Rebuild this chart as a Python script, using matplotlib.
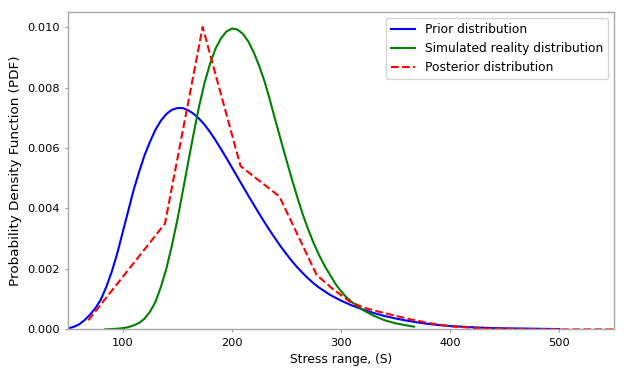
import matplotlib
matplotlib.use("Agg")
import matplotlib.pyplot as plt

# Prior distribution
prior_x = [50, 55, 60, 65, 70, 75, 80, 85, 90, 95, 100, 105, 110, 115, 120,
           125, 130, 135, 140, 145, 150, 155, 160, 165, 170, 175, 180, 185,
           190, 195, 200, 205, 210, 215, 220, 225, 230, 235, 240, 245, 250,
           255, 260, 265, 270, 275, 280, 290, 300, 310, 320, 330, 340, 350,
           360, 370, 380, 390, 400, 420, 440, 460, 480, 500]
prior_y = [0.00003, 0.00008, 0.00016, 0.0003, 0.00048, 0.0007, 0.00098,
           0.0014, 0.0019, 0.0025, 0.0032, 0.0039, 0.0046, 0.0052, 0.00575,
           0.0062, 0.0066, 0.0069, 0.00712, 0.00726, 0.00732, 0.00732,
           0.00725, 0.00713, 0.00697, 0.00677, 0.00653, 0.00626, 0.00597,
           0.00567, 0.00536, 0.00505, 0.00474, 0.00443, 0.00413, 0.00383,
           0.00354, 0.00326, 0.00299, 0.00273, 0.00249, 0.00226, 0.00205,
           0.00186, 0.00168, 0.00152, 0.00138, 0.00114, 0.00095, 0.00079,
           0.00066, 0.00054, 0.00044, 0.00036, 0.00029, 0.00023, 0.00018,
           0.00014, 0.00011, 0.00007, 0.00004, 0.00003, 0.00002, 0.00001]

# Simulated reality distribution
real_x = [84, 90, 95, 100, 105, 110, 115, 120, 125, 130, 135, 140, 145, 150,
          155, 160, 165, 170, 175, 180, 185, 190, 195, 200, 205, 210, 215,
          220, 225, 230, 235, 240, 245, 250, 255, 260, 265, 270, 275, 280,
          285, 290, 295, 300, 305, 310, 320, 330, 340, 350, 360, 367]
real_y = [0.0, 0.00001, 0.00002, 0.00004, 0.00007, 0.00013, 0.00021, 0.00035,
          0.00058, 0.0009, 0.0014, 0.002, 0.00275, 0.0036, 0.00455, 0.00552,
          0.00647, 0.00737, 0.00815, 0.00878, 0.00928, 0.00962, 0.00985,
          0.00995, 0.00992, 0.00978, 0.00953, 0.00917, 0.00872, 0.0082,
          0.00757, 0.0069, 0.00625, 0.0056, 0.00497, 0.00437, 0.0038, 0.0033,
          0.00285, 0.00245, 0.0021, 0.0018, 0.0015, 0.00126, 0.00106, 0.0009,
          0.00064, 0.00045, 0.0003, 0.0002, 0.00013, 0.00009]

# Posterior distribution
post_x = [68.6, 138.8, 173.3, 208, 243.5, 277.7, 292, 308, 320, 335, 350,
          365, 380, 400, 425, 450, 475, 500, 550]
post_y = [0.0003, 0.0035, 0.0100, 0.0054, 0.0044, 0.0018, 0.00135, 0.00092,
          0.00073, 0.00058, 0.00045, 0.00032, 0.00021, 0.0001, 0.00004,
          0.00001, 0.0, 0.0, 0.0]

fig = plt.figure(figsize=(6.24, 3.73), dpi=100)
ax = fig.add_axes([0.109, 0.117, 0.875, 0.851])

ax.plot(prior_x, prior_y, color="blue", lw=1.5, label="Prior distribution")
ax.plot(real_x, real_y, color="green", lw=1.5, label="Simulated reality distribution")
ax.plot(post_x, post_y, color="red", lw=1.5, ls="--", label="Posterior distribution")

ax.set_xlim(50, 550)
ax.set_ylim(0, 0.0105)
ax.set_xticks([100, 200, 300, 400, 500])
ax.set_yticks([0.0, 0.002, 0.004, 0.006, 0.008, 0.010])
ax.set_yticklabels(["0.000", "0.002", "0.004", "0.006", "0.008", "0.010"])

ax.set_xlabel("Stress range, (S)", fontsize=8.8)
ax.set_ylabel("Probability Density Function (PDF)", fontsize=9.7)
ax.tick_params(labelsize=8.2, length=2.5, color="#999999")
for s in ax.spines.values():
    s.set_color("#a8a8a8")
    s.set_linewidth(1.0)

ax.legend(loc="upper right", fontsize=8.8)

fig.savefig("out.png", dpi=100)
